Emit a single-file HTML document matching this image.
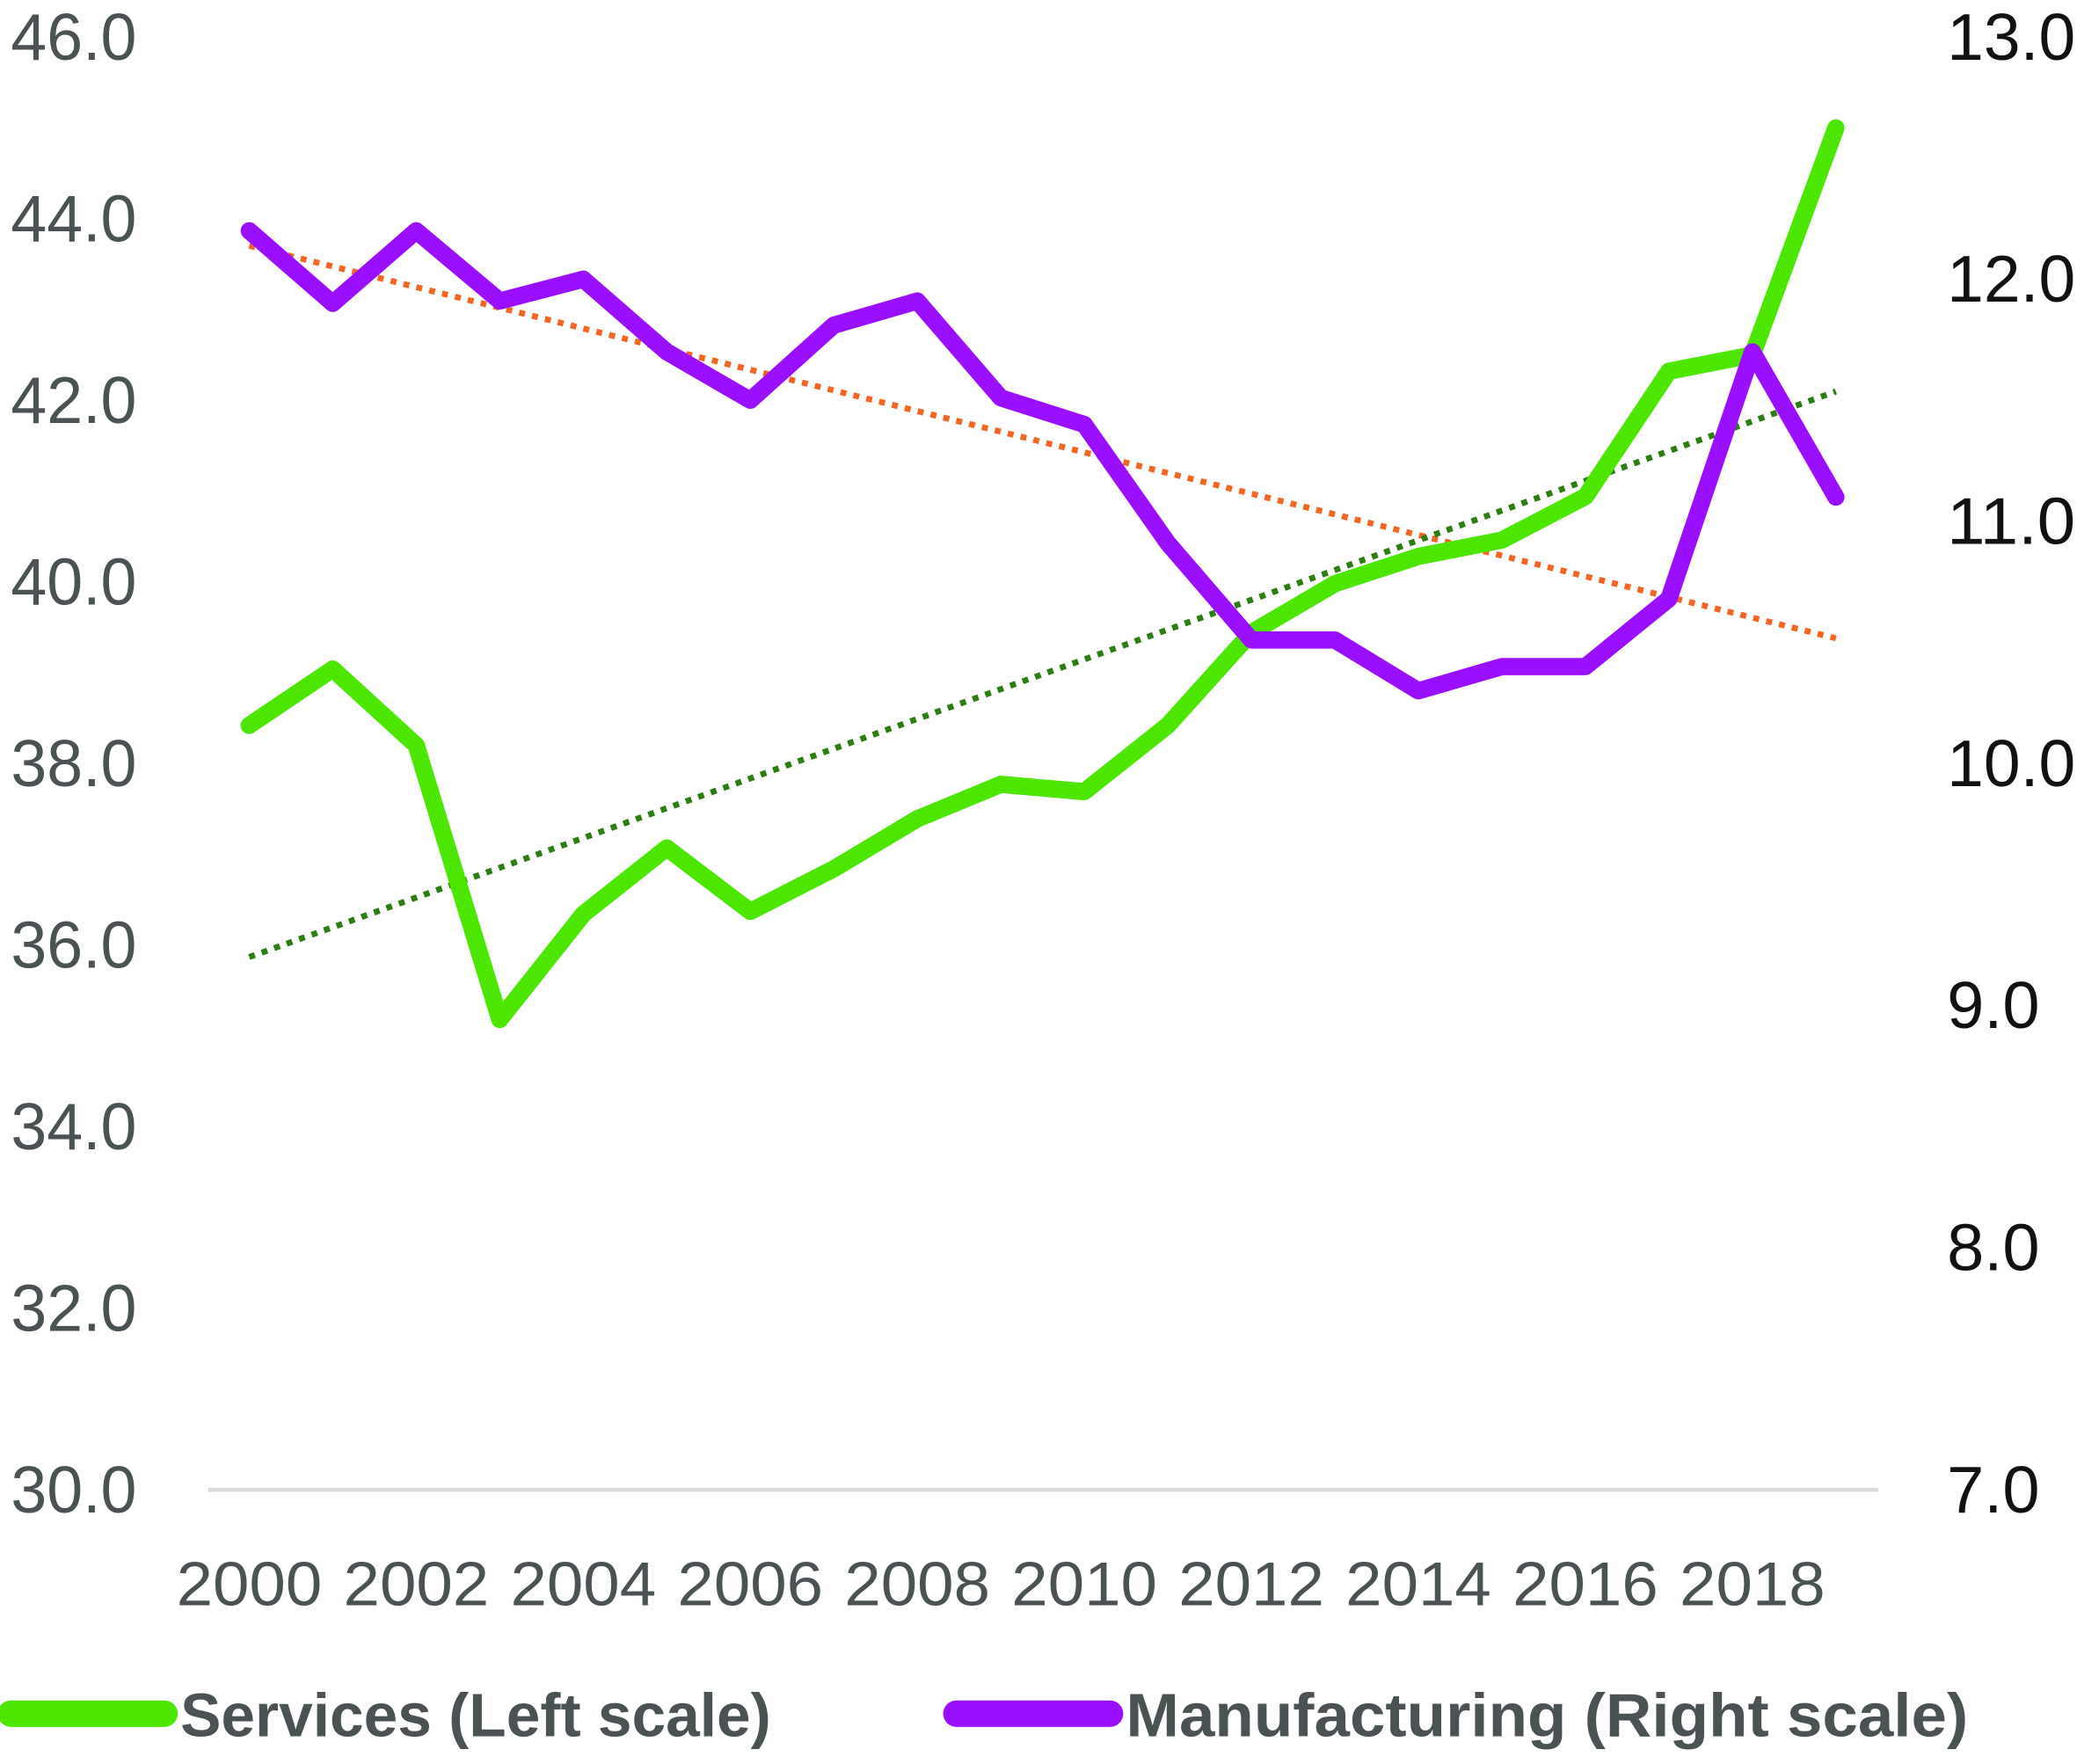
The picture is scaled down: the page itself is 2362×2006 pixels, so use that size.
<!DOCTYPE html>
<html><head><meta charset="utf-8"><style>
html,body{margin:0;padding:0;background:#fff}
svg{display:block}
text{font-family:"Liberation Sans",sans-serif}
</style></head><body>
<svg id="chart" width="2362" height="2006" viewBox="0 0 1568 1332" xmlns="http://www.w3.org/2000/svg">
<g id="axes"></g>
<g id="marks"></g>
<g>
<line x1="8" y1="1294" x2="124" y2="1294" stroke="#4de600" stroke-width="20" stroke-linecap="round"/>
<text x="136" y="1311" font-size="46" font-weight="bold" fill="#4a5253" textLength="446" lengthAdjust="spacingAndGlyphs">Services (Left scale)</text>
<line x1="722" y1="1294" x2="838" y2="1294" stroke="#9b0fff" stroke-width="20" stroke-linecap="round"/>
<text x="850" y="1311" font-size="46" font-weight="bold" fill="#4a5253" textLength="636" lengthAdjust="spacingAndGlyphs">Manufacturing (Right scale)</text>
</g>
</svg>
<script>
const years = [2000,2001,2002,2003,2004,2005,2006,2007,2008,2009,2010,2011,2012,2013,2014,2015,2016,2017,2018,2019];
const services = [38.42,39.04,38.2,35.18,36.34,37.07,36.37,36.84,37.39,37.77,37.69,38.42,39.44,39.98,40.28,40.46,40.94,42.32,42.5,45.0];
const manufacturing = [12.2,11.9,12.2,11.91,12.0,11.7,11.5,11.81,11.91,11.51,11.4,10.91,10.51,10.51,10.3,10.4,10.4,10.68,11.7,11.1];
const leftTicks = [30,32,34,36,38,40,42,44,46];
const rightTicks = [7,8,9,10,11,12,13];
const xTickLabels = [2000,2002,2004,2006,2008,2010,2012,2014,2016,2018];

const NS="http://www.w3.org/2000/svg";
const xS = y => 188 + (y-2000)*63.06;
const yL = v => 1125 - (v-30)*(1097/16);
const yR = v => 1125 - (v-7)*(1097/6);
const axes=document.getElementById('axes'), marks=document.getElementById('marks');
function mk(tag, attrs, parent){const e=document.createElementNS(NS,tag);for(const k in attrs)e.setAttribute(k,attrs[k]);parent.appendChild(e);return e;}

let g=mk('line',{x1:157,y1:1125,x2:1418,y2:1125,stroke:'#d9d9d9','stroke-width':3},axes);


leftTicks.forEach(v=>{const t=mk('text',{x:8,y:yL(v)+17,'font-size':50,fill:'#4a5253',textLength:95,lengthAdjust:'spacingAndGlyphs'},axes);t.textContent=v.toFixed(1);

});
rightTicks.forEach(v=>{const t=mk('text',{x:1470,y:yR(v)+17,'font-size':50,fill:'#111',textLength:v>=10?97:70,lengthAdjust:'spacingAndGlyphs'},axes);t.textContent=v.toFixed(1);

});
xTickLabels.forEach(v=>{const t=mk('text',{x:xS(v)-55,y:1212,'font-size':47,fill:'#4a5253',textLength:110,lengthAdjust:'spacingAndGlyphs'},axes);t.textContent=v;

});

function reg(vals){const n=vals.length;let mx=0,my=0;years.forEach((x,i)=>{mx+=x;my+=vals[i];});mx/=n;my/=n;let sxy=0,sxx=0;years.forEach((x,i)=>{sxy+=(x-mx)*(vals[i]-my);sxx+=(x-mx)*(x-mx);});const b=sxy/sxx;return x=>my+b*(x-mx);}
const fs=reg(services), fm=reg(manufacturing);
const x0=years[0], x1=years[years.length-1];
let tr=mk('line',{x1:xS(x0),y1:yR(fm(x0)),x2:xS(x1),y2:yR(fm(x1)),stroke:'#f26522','stroke-width':4.5,'stroke-dasharray':'4.5 5.5'},marks);


tr=mk('line',{x1:xS(x0),y1:yL(fs(x0)),x2:xS(x1),y2:yL(fs(x1)),stroke:'#2e7d12','stroke-width':4.5,'stroke-dasharray':'4.5 5.5'},marks);



let p=mk('polyline',{points:years.map((y,i)=>xS(y)+','+yL(services[i])).join(' '),fill:'none',stroke:'#4de600','stroke-width':13,'stroke-linejoin':'round','stroke-linecap':'round'},marks);


p=mk('polyline',{points:years.map((y,i)=>xS(y)+','+yR(manufacturing[i])).join(' '),fill:'none',stroke:'#9b0fff','stroke-width':13,'stroke-linejoin':'round','stroke-linecap':'round'},marks);


</script>
</body></html>
